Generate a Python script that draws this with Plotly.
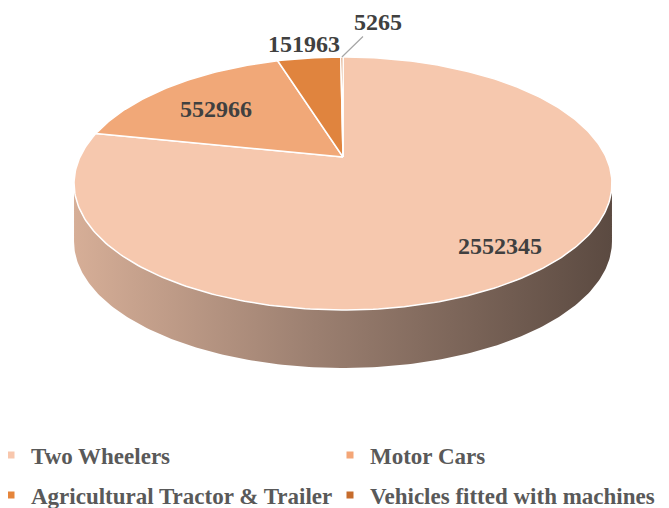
import numpy as np
import plotly.graph_objects as go

# ---- data ----
categories = ["Two Wheelers", "Motor Cars", "Agricultural Tractor & Trailer", "Vehicles fitted with machines"]
values = [2552345, 552966, 151963, 5265]
top_colors = ["#f6c8ae", "#f1a878", "#e0843e", "#c4692b"]
legend_colors = ["#f8c7ad", "#f4a677", "#e5853b", "#c66c2d"]

# ---- page / figure geometry (page body has an 8px margin) ----
OFF = 8
FW, FH = 661, 500
MB = 100                     # bottom margin holding the legend
PLOT_H = FH - MB

# ---- geometry of the tilted (perspective) pie, in page pixels ----
CX, VY = 343.0, 157.0      # projected pie centre
K, A, C = 263.0, -88.06, 0.2095
DEPTH = 58.0


def proj(r, theta):
    u = r * np.sin(theta)
    v = r * np.cos(theta)
    d = 1.0 + C * v
    return CX + K * u / d, (VY + A * v) / d


total = float(sum(values))
fr = [v / total for v in values]
starts = np.concatenate([[0.0], np.cumsum(fr)[:-1]]) * 2 * np.pi
ends = np.cumsum(fr) * 2 * np.pi

fig = go.Figure()

# side wall (visible front part of each slice)
t_lo, t_hi = np.arccos(-C), 2 * np.pi - np.arccos(-C)
for i in range(len(values)):
    a0, a1 = max(starts[i], t_lo), min(ends[i], t_hi)
    if a1 <= a0:
        continue
    th = np.linspace(a0, a1, 200)
    xs, ys = proj(1.0, th)
    px = np.concatenate([xs, xs[::-1], xs[:1]])
    py = np.concatenate([ys, ys[::-1] + DEPTH, ys[:1]])
    fig.add_trace(go.Scatter(
        x=px, y=py, mode="lines", fill="toself",
        line=dict(width=0, color="rgba(0,0,0,0)"),
        fillgradient=dict(type="horizontal",
                          colorscale=[[0, "#d6ae97"], [0.45, "#9b7f70"], [1, "#5b4a41"]]),
        hoverinfo="skip", showlegend=False))

# top face slices
for i in range(len(values)):
    th = np.linspace(starts[i], ends[i], max(4, int(400 * fr[i])))
    xs, ys = proj(1.0, th)
    px = np.concatenate([[CX], xs, [CX]])
    py = np.concatenate([[VY], ys, [VY]])
    fig.add_trace(go.Scatter(
        x=px, y=py, mode="lines", fill="toself", fillcolor=top_colors[i],
        line=dict(width=1.5, color="white"),
        hoverinfo="skip", showlegend=False))

# legend entries: one small legend per entry, laid out 2 x 2
legend_ids = ["legend", "legend2", "legend3", "legend4"]
for i, name in enumerate(categories):
    fig.add_trace(go.Scatter(
        x=[None], y=[None], mode="markers", name=name,
        marker=dict(symbol="square", size=7, color=legend_colors[i]),
        legend=legend_ids[i]))

# data labels
lab_font = dict(family="Liberation Serif", size=24, color="#404040", weight="bold")
label_r = [0.82, 0.72, 1.17]
for i in range(3):
    mid = (starts[i] + ends[i]) / 2
    lx, ly = proj(label_r[i], mid)
    fig.add_annotation(x=lx, y=ly + (5 if i == 1 else 0), text=str(values[i]),
                       showarrow=False, font=lab_font)

mid = (starts[3] + ends[3]) / 2
ex, ey = proj(1.0, mid)
fig.add_annotation(x=ex, y=ey, text=str(values[3]), showarrow=True, arrowhead=0,
                   arrowwidth=1.2, arrowcolor="#a6a6a6", standoff=0,
                   ax=36, ay=-35, font=lab_font)


def paper_y(page_y):
    return (PLOT_H - (page_y - OFF)) / PLOT_H


def paper_x(page_x):
    return (page_x - OFF) / FW


leg_font = dict(family="Liberation Serif", size=23, color="#595959", weight="bold")
col_x = [paper_x(-9), paper_x(330)]
row_y = [paper_y(455), paper_y(495)]
legend_layout = {}
for i, lid in enumerate(legend_ids):
    legend_layout[lid] = dict(orientation="h", x=col_x[i % 2], xanchor="left",
                              y=row_y[i // 2], yanchor="middle",
                              font=leg_font, bgcolor="rgba(0,0,0,0)")

fig.update_layout(
    width=FW, height=FH,
    margin=dict(l=0, r=0, t=0, b=MB, autoexpand=False),
    paper_bgcolor="white", plot_bgcolor="white",
    xaxis=dict(range=[OFF, OFF + FW], visible=False, fixedrange=True),
    yaxis=dict(range=[OFF + PLOT_H, OFF], visible=False, fixedrange=True),
    **legend_layout,
)

fig.write_html("out.html")
